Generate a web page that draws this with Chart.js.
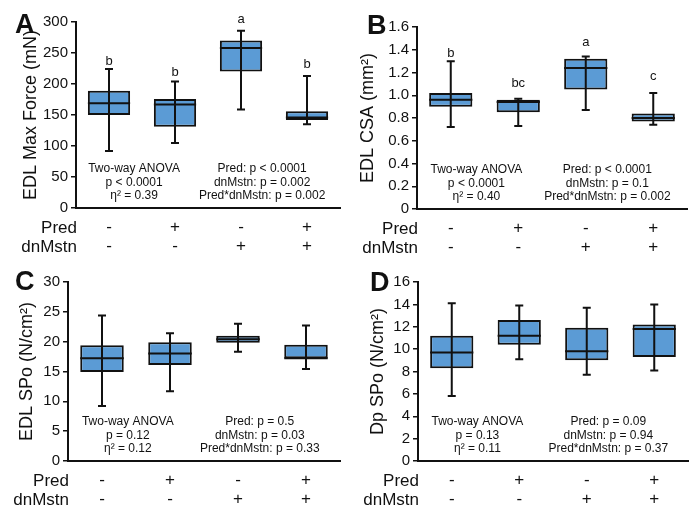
<!DOCTYPE html>
<html>
<head>
<meta charset="utf-8">
<script src="https://cdn.jsdelivr.net/npm/chart.js@4.4.1/dist/chart.umd.min.js"></script>
<style>
    body { margin: 0; background: #fff; }
    #wrap { position: relative; width: 700px; height: 517px; }
    .panel { position: absolute; }
</style>
</head>
<body>
<div id="wrap">
    <div class="panel" style="left:0;top:0"><canvas id="chartA" width="350" height="260"></canvas></div>
    <div class="panel" style="left:350px;top:0"><canvas id="chartB" width="350" height="260"></canvas></div>
    <div class="panel" style="left:0;top:260px"><canvas id="chartC" width="350" height="257"></canvas></div>
    <div class="panel" style="left:350px;top:260px"><canvas id="chartD" width="350" height="257"></canvas></div>
</div>
<script>
// groups
const groups = ['ctrl', 'pred', 'dnMstn', 'pred+dnMstn'];
const predSigns = ['-', '+', '-', '+'];
const mstnSigns = ['-', '-', '+', '+'];

// A - EDL max force (mN)
const forceMin = [92, 105, 159, 135];
const forceQ1 = [150, 131, 220, 142];
const forceMed = [169, 167, 258, 146];
const forceQ3 = [189, 176, 270, 156];
const forceMax = [224, 204, 286, 213];
const forceLetters = ['b', 'b', 'a', 'b'];
const forceTicks = [0, 50, 100, 150, 200, 250, 300];

// B - EDL CSA (mm2)
const csaMin = [0.72, 0.73, 0.87, 0.74];
const csaQ1 = [0.90, 0.85, 1.05, 0.77];
const csaMed = [0.96, 0.94, 1.24, 0.80];
const csaQ3 = [1.02, 0.96, 1.32, 0.84];
const csaMax = [1.30, 0.97, 1.34, 1.02];
const csaLetters = ['b', 'bc', 'a', 'c'];
const csaTicks = [0, 0.2, 0.4, 0.6, 0.8, 1.0, 1.2, 1.4, 1.6];

// C - EDL SPo (N/cm2)
const edlSpoMin = [9.2, 11.7, 18.3, 15.4];
const edlSpoQ1 = [14.9, 16.1, 19.8, 17.2];
const edlSpoMed = [17.2, 18.0, 20.4, 17.2];
const edlSpoQ3 = [19.4, 19.9, 21.0, 19.5];
const edlSpoMax = [24.4, 21.4, 23.0, 22.7];
const edlSpoTicks = [0, 5, 10, 15, 20, 25, 30];

// D - Dp SPo (N/cm2)
const dpSpoMin = [5.8, 9.1, 7.7, 8.1];
const dpSpoQ1 = [8.3, 10.4, 9.0, 9.3];
const dpSpoMed = [9.7, 11.2, 9.8, 11.8];
const dpSpoQ3 = [11.2, 12.6, 11.9, 12.2];
const dpSpoMax = [14.1, 13.9, 13.7, 14.0];
const dpSpoTicks = [0, 2, 4, 6, 8, 10, 12, 14, 16];

const FONT = '"Liberation Sans", Arial, Helvetica, sans-serif';
const BOX_FILL = '#5b9bd5';
const INK = '#111';

const panels = [
    {
        id: 'chartA', letter: 'A', letterPos: [15, 33],
        title: 'EDL Max Force (mN)', titlePad: 20,
        min: forceMin, q1: forceQ1, med: forceMed, q3: forceQ3, max: forceMax,
        letters: forceLetters, letterAt: [231, 213, 299, 226],
        ticks: forceTicks, fmt: v => String(v),
        area: { left: 76, right: 340, top: 22, bottom: 208 },
        statsLeft: ['Two-way ANOVA', 'p < 0.0001', 'η² = 0.39'],
        statsRight: ['Pred: p < 0.0001', 'dnMstn: p = 0.002', 'Pred*dnMstn: p = 0.002']
    },
    {
        id: 'chartB', letter: 'B', letterPos: [17, 34],
        title: 'EDL CSA (mm²)', titlePad: 7,
        min: csaMin, q1: csaQ1, med: csaMed, q3: csaQ3, max: csaMax,
        letters: csaLetters, letterAt: [1.336, 1.073, 1.432, 1.134],
        ticks: csaTicks, fmt: v => (v === 0 ? '0' : v.toFixed(1)),
        area: { left: 67, right: 337, top: 27, bottom: 209 },
        statsLeft: ['Two-way ANOVA', 'p < 0.0001', 'η² = 0.40'],
        statsRight: ['Pred: p < 0.0001', 'dnMstn: p = 0.1', 'Pred*dnMstn: p = 0.002']
    },
    {
        id: 'chartC', letter: 'C', letterPos: [15, 30],
        title: 'EDL SPo (N/cm²)', titlePad: 16,
        min: edlSpoMin, q1: edlSpoQ1, med: edlSpoMed, q3: edlSpoQ3, max: edlSpoMax,
        letters: null, letterAt: null,
        ticks: edlSpoTicks, fmt: v => String(v),
        area: { left: 68, right: 340, top: 22, bottom: 201 },
        statsLeft: ['Two-way ANOVA', 'p = 0.12', 'η² = 0.12'],
        statsRight: ['Pred: p = 0.5', 'dnMstn: p = 0.03', 'Pred*dnMstn: p = 0.33']
    },
    {
        id: 'chartD', letter: 'D', letterPos: [20, 31],
        title: 'Dp SPo (N/cm²)', titlePad: 17,
        min: dpSpoMin, q1: dpSpoQ1, med: dpSpoMed, q3: dpSpoQ3, max: dpSpoMax,
        letters: null, letterAt: null,
        ticks: dpSpoTicks, fmt: v => String(v),
        area: { left: 68, right: 338, top: 22, bottom: 201 },
        statsLeft: ['Two-way ANOVA', 'p = 0.13', 'η² = 0.11'],
        statsRight: ['Pred: p = 0.09', 'dnMstn: p = 0.94', 'Pred*dnMstn: p = 0.37']
    }
];

// whiskers, medians, letters, stats text and row titles
const boxExtras = {
    id: 'boxExtras',
    afterDatasetsDraw(chart, args, opts) {
        const p = opts.panel;
        const ctx = chart.ctx;
        const y = chart.scales.y;
        const area = chart.chartArea;
        const bars = chart.getDatasetMeta(0).data;

        ctx.save();
        ctx.strokeStyle = INK;
        ctx.lineWidth = 2;
        bars.forEach((bar, i) => {
            const x = bar.x;
            const half = bar.width / 2;
            const yLo = y.getPixelForValue(p.min[i]);
            const yHi = y.getPixelForValue(p.max[i]);
            const yMed = y.getPixelForValue(p.med[i]);

            ctx.beginPath();
            ctx.moveTo(x, yLo);
            ctx.lineTo(x, yHi);
            ctx.moveTo(x - 4, yLo);
            ctx.lineTo(x + 4, yLo);
            ctx.moveTo(x - 4, yHi);
            ctx.lineTo(x + 4, yHi);
            ctx.moveTo(x - half, yMed);
            ctx.lineTo(x + half, yMed);
            ctx.stroke();

            if (p.letters) {
                ctx.fillStyle = INK;
                ctx.font = '13px ' + FONT;
                ctx.textAlign = 'center';
                ctx.textBaseline = 'alphabetic';
                ctx.fillText(p.letters[i], x, y.getPixelForValue(p.letterAt[i]));
            }
        });

        // stats text
        ctx.fillStyle = INK;
        ctx.font = '12px ' + FONT;
        ctx.textAlign = 'center';
        ctx.textBaseline = 'middle';
        const w = area.right - area.left;
        p.statsLeft.forEach((t, k) => {
            ctx.fillText(t, area.left + w * 0.22, area.bottom - 39 + k * 13.3);
        });
        p.statsRight.forEach((t, k) => {
            ctx.fillText(t, area.left + w * 0.705, area.bottom - 39 + k * 13.3);
        });

        // row titles next to the +/- labels
        ctx.font = '17px ' + FONT;
        ctx.textAlign = 'right';
        ctx.fillText('Pred', area.left + 1, area.bottom + 20);
        ctx.fillText('dnMstn', area.left + 1, area.bottom + 39);

        // panel letter
        ctx.font = 'bold 27px ' + FONT;
        ctx.textAlign = 'left';
        ctx.textBaseline = 'alphabetic';
        ctx.fillText(p.letter, p.letterPos[0], p.letterPos[1]);
        ctx.restore();
    }
};

function makePanel(p) {
    const canvas = document.getElementById(p.id);
    const W = canvas.width;
    const H = canvas.height;
    new Chart(canvas.getContext('2d'), {
        type: 'bar',
        data: {
            labels: groups,
            datasets: [{
                data: p.q1.map((v, i) => [v, p.q3[i]]),
                backgroundColor: BOX_FILL,
                borderColor: INK,
                borderWidth: 2,
                borderSkipped: false,
                categoryPercentage: 1,
                barPercentage: 0.64
            }]
        },
        options: {
            responsive: false,
            animation: false,
            layout: { padding: { top: p.area.top, right: W - p.area.right, bottom: 0, left: 0 } },
            plugins: {
                legend: { display: false },
                tooltip: { enabled: false },
                boxExtras: { panel: p }
            },
            scales: {
                x: {
                    grid: { display: false, drawTicks: false },
                    border: { display: true, color: INK, width: 2 },
                    ticks: {
                        color: INK,
                        padding: 10,
                        maxRotation: 0,
                        font: { family: FONT, size: 17, lineHeight: 1.12 },
                        callback: (val, i) => [predSigns[i], mstnSigns[i]]
                    },
                    afterFit: s => { s.height = H - p.area.bottom; }
                },
                y: {
                    min: p.ticks[0],
                    max: p.ticks[p.ticks.length - 1],
                    grid: { display: true, drawOnChartArea: false, drawTicks: true, tickLength: 5, color: INK, lineWidth: 1.5 },
                    border: { display: true, color: INK, width: 2 },
                    ticks: {
                        color: INK,
                        padding: 3,
                        font: { family: FONT, size: 15 },
                        callback: v => p.fmt(v)
                    },
                    afterBuildTicks: s => { s.ticks = p.ticks.map(v => ({ value: v })); },
                    title: {
                        display: true,
                        text: p.title,
                        color: INK,
                        padding: { top: p.titlePad, bottom: 0 },
                        font: { family: FONT, size: 18 }
                    },
                    afterFit: s => { s.width = p.area.left; }
                }
            }
        },
        plugins: [boxExtras]
    });
}

document.addEventListener('DOMContentLoaded', function() {
    panels.forEach(makePanel);
});
</script>
</body>
</html>
